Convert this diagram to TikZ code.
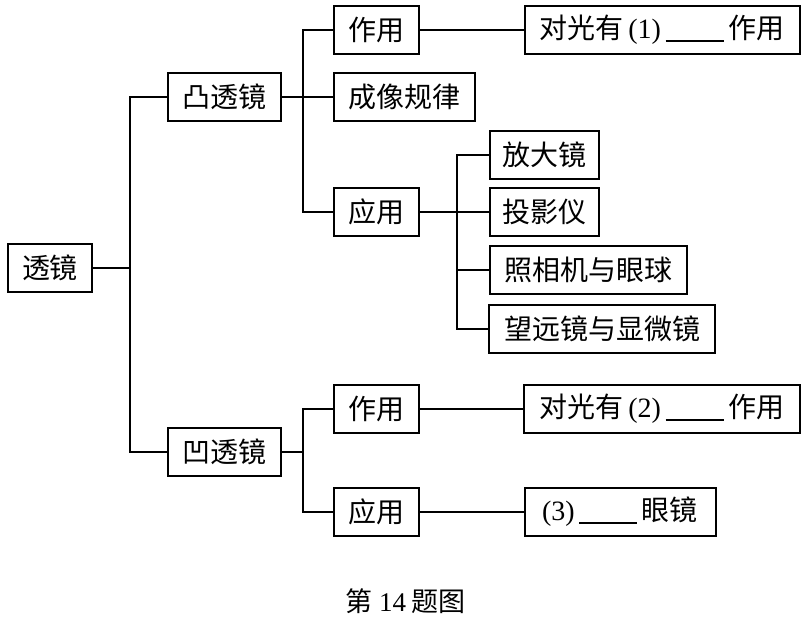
\documentclass[tikz,border=0pt]{standalone}
\usepackage{fontspec}
\setmainfont{Liberation Serif}
\newfontfamily\cjk{Noto Sans CJK SC}
\begin{document}
\begin{tikzpicture}[x=1pt,y=-1pt,
  box/.style={draw, line width=2pt, inner sep=0pt, minimum height=48pt, font=\fontsize{28}{31}\selectfont},
  link/.style={line width=2pt}]
\useasboundingbox (0,0) rectangle (807,619);
\newcommand{\blankline}[1]{\rule[-3pt]{#1}{1.4pt}}
% nodes
\node[box, minimum width=84pt]  (root)   at (50,268)    {\cjk 透镜};
\node[box, minimum width=113pt] (tu)     at (224,97)    {\cjk 凸透镜};
\node[box, minimum width=85pt]  (tuzy)   at (376,30)    {\cjk 作用};
\node[box, minimum width=141pt] (tucx)   at (404,97)    {\cjk 成像规律};
\node[box, minimum width=85pt]  (tuyy)   at (376,212)   {\cjk 应用};
\node[box, minimum width=275pt] (tuzyt)  at (662,30)    {{\cjk 对光有}\,(1)\,\blankline{58pt}\,{\cjk 作用}};
\node[box, minimum width=109pt] (fdj)    at (544,155)   {\cjk 放大镜};
\node[box, minimum width=109pt] (tyy)    at (544,212)   {\cjk 投影仪};
\node[box, minimum width=197pt] (zxj)    at (588,270)   {\cjk 照相机与眼球};
\node[box, minimum width=226pt] (wyj)    at (602,329)   {\cjk 望远镜与显微镜};
\node[box, minimum width=113pt] (ao)     at (224,452)   {\cjk 凹透镜};
\node[box, minimum width=85pt]  (aozy)   at (376,409)   {\cjk 作用};
\node[box, minimum width=85pt]  (aoyy)   at (376,512)   {\cjk 应用};
\node[box, minimum width=276pt] (aozyt)  at (662,409)   {{\cjk 对光有}\,(2)\,\blankline{58pt}\,{\cjk 作用}};
\node[box, minimum width=191pt] (yj)     at (620,512)   {(3)\,\blankline{58pt}\,{\cjk 眼镜}};
\node[font=\fontsize{27}{30}\selectfont] (cap) at (405,601) {{\cjk 第}\hspace{7pt}14\hspace{5pt}{\cjk 题图}};
% branch coordinates
\coordinate (tr) at (130,0);
\coordinate (b1) at (303,0);
\coordinate (b2) at (457,0);
% connectors
\draw[link] (root.east) -- (root.east -| tr);
\draw[link] (tu.west) -- (tu.west -| tr) -- (ao.west -| tr) -- (ao.west);
\draw[link] (tu.east) -- (tu.east -| b1);
\draw[link] (tuzy.west) -- (tuzy.west -| b1) -- (tuyy.west -| b1) -- (tuyy.west);
\draw[link] (tucx.west) -- (tucx.west -| b1);
\draw[link] (tuzy.east) -- (tuzyt.west);
\draw[link] (tuyy.east) -- (tyy.west);
\draw[link] (fdj.west) -- (fdj.west -| b2) -- (wyj.west -| b2) -- (wyj.west);
\draw[link] (zxj.west) -- (zxj.west -| b2);
\draw[link] (ao.east) -- (ao.east -| b1);
\draw[link] (aozy.west) -- (aozy.west -| b1) -- (aoyy.west -| b1) -- (aoyy.west);
\draw[link] (aozy.east) -- (aozyt.west);
\draw[link] (aoyy.east) -- (yj.west);
\end{tikzpicture}
\end{document}
